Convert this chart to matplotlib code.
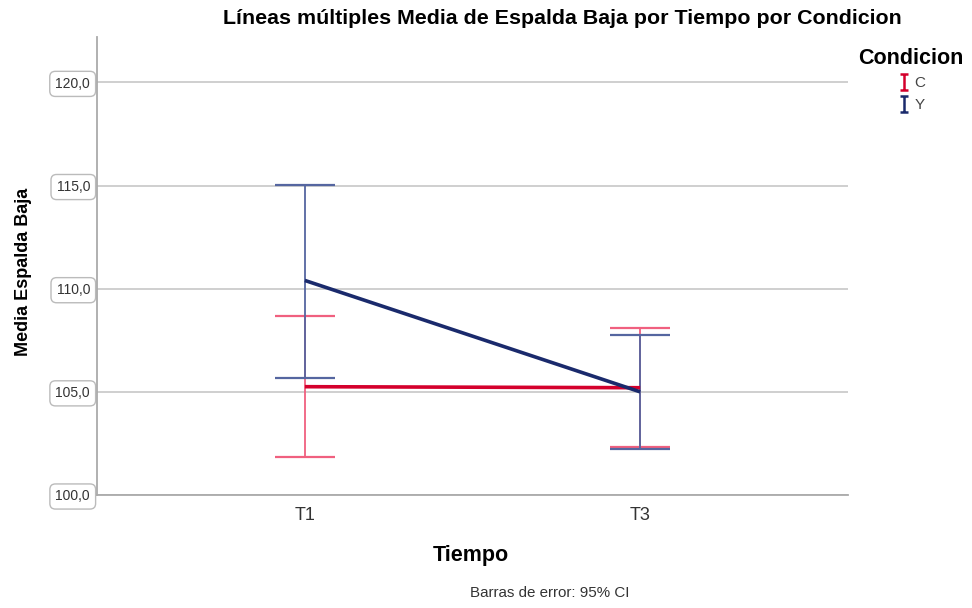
import matplotlib
matplotlib.use("Agg")
import matplotlib.pyplot as plt
from matplotlib.lines import Line2D
from matplotlib.path import Path

times = ["T1", "T3"]
conditions = ["C", "Y"]
means = {"C": [105.25, 105.2], "Y": [110.4, 105.0]}
upper = {"C": [108.7, 108.1], "Y": [115.05, 107.75]}
lower = {"C": [101.85, 102.35], "Y": [105.65, 102.25]}
yticks = [100, 105, 110, 115, 120]

line_colors = {"C": "#d4002c", "Y": "#1a2a6c"}
err_colors = {"C": "#f0607f", "Y": "#5566a0"}

plt.rcParams['font.family'] = ['Liberation Sans', 'DejaVu Sans']
fig = plt.figure(figsize=(9.72, 6.08), dpi=100)
ax = fig.add_axes([97/972, 1-495/608, 751/972, (495-37)/608])

x = list(range(len(times)))
for c in conditions:
    ax.plot(x, means[c], color=line_colors[c], lw=2.6, zorder=3, solid_capstyle='butt')
for c in conditions:
    m = means[c]
    yerr = [[m[i]-lower[c][i] for i in range(2)], [upper[c][i]-m[i] for i in range(2)]]
    ax.errorbar(x, m, yerr=yerr, fmt='none', ecolor=err_colors[c], elinewidth=1.3,
                capsize=21.5, capthick=1.6, zorder=2)

ax.set_xlim(-0.62, 1.62)
ax.set_ylim(100, 122.2)
ax.set_yticks(yticks)
ax.set_yticklabels([f"{v:.1f}".replace('.', ',') for v in yticks], fontsize=10, color='#333333')
for lab in ax.get_yticklabels():
    lab.set_bbox(dict(boxstyle='round,pad=0.4,rounding_size=0.4', fc='white', ec='#bbbbbb', lw=1))
ax.tick_params(axis='y', length=0, pad=5)
ax.set_xticks(x)
ax.set_xticklabels(times, fontsize=13, color='#333333')
ax.tick_params(axis='x', length=0, pad=9)
ax.grid(axis='y', color='#cccccc', lw=1.3, zorder=0)
for s in ['top', 'right']:
    ax.spines[s].set_visible(False)
ax.spines['left'].set_color('#aaaaaa')
ax.spines['bottom'].set_color('#aaaaaa')
ax.spines['left'].set_linewidth(1.3)
ax.spines['bottom'].set_linewidth(1.3)

fig.text(23/972, 1-272/608, "Media Espalda Baja", rotation=90, ha='center', va='center',
         fontsize=13, fontweight='bold')
fig.text(471/972, 1-555/608, "Tiempo", ha='center', va='center', fontsize=15.5, fontweight='bold')
fig.text(562/972, 1-19/608, "Líneas múltiples Media de Espalda Baja por Tiempo por Condicion",
         ha='center', va='center', fontsize=15.4, fontweight='bold')
fig.text(550/972, 1-593/608, "Barras de error: 95% CI", ha='center', va='center', fontsize=10.9, color='#333333')

ibeam = Path([(-0.5, 1), (0.5, 1), (0, 1), (0, -1), (-0.5, -1), (0.5, -1)],
             [Path.MOVETO, Path.LINETO, Path.MOVETO, Path.LINETO, Path.MOVETO, Path.LINETO])
handles = [Line2D([], [], ls='none', marker=ibeam, color=line_colors[c], markersize=11,
                  markeredgewidth=1.8) for c in conditions]
leg = fig.legend(handles, conditions, loc='upper center', bbox_to_anchor=(911/972, 1-40/608),
                 frameon=False, title="Condicion", fontsize=11, handletextpad=0.2,
                 labelspacing=0.5, handlelength=1.0, alignment='center', borderpad=0)
leg.get_title().set_fontweight('bold')
leg.get_title().set_fontsize(15.5)
for t in leg.get_texts():
    t.set_color('#444444')

fig.savefig("out.png", dpi=100)
